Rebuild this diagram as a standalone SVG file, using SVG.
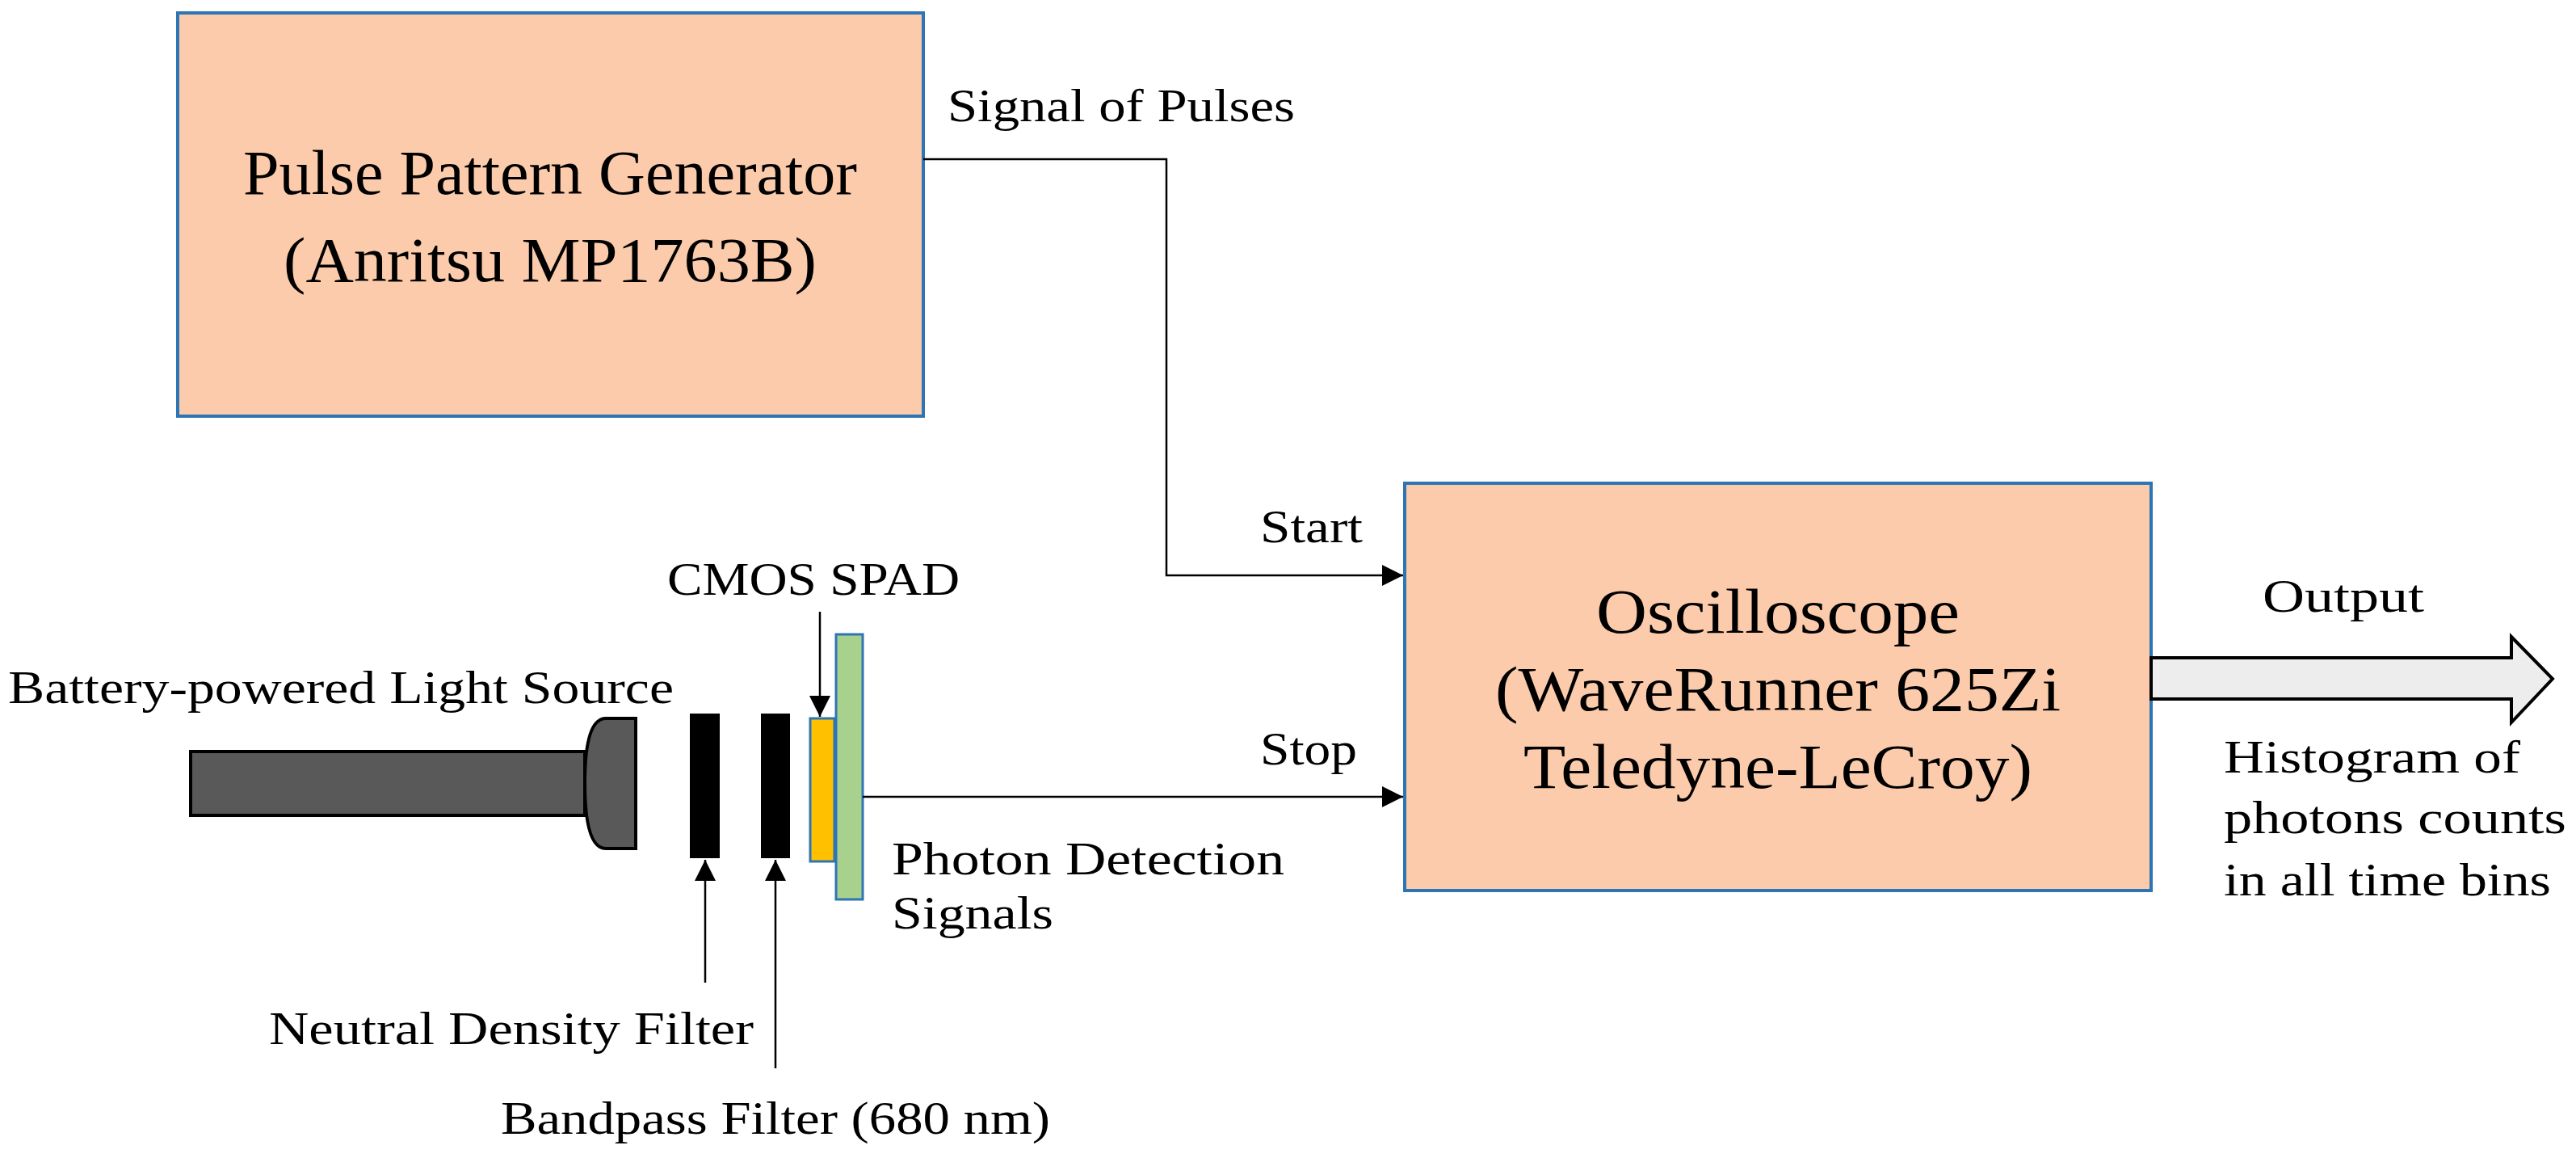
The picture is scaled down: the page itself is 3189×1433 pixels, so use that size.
<svg xmlns="http://www.w3.org/2000/svg" width="3189" height="1433" viewBox="0 0 3189 1433">
<defs>
<style>
text{font-family:"Liberation Serif","DejaVu Serif",serif;fill:#000}
.big{font-size:78px}
.lbl{font-size:58px}
.box{fill:#FBCBAB;stroke:#2E75B6;stroke-width:4}
.ln{fill:none;stroke:#000;stroke-width:2.5}
</style>
<marker id="ah2" viewBox="0 0 10 10" refX="10" refY="5" markerWidth="26" markerHeight="26" markerUnits="userSpaceOnUse" orient="auto"><path d="M0,0L10,5L0,10z" fill="#000"/></marker>
</defs>
<rect width="3189" height="1433" fill="#fff"/>
<g id="ppg">
<rect class="box" x="220" y="16" width="923" height="499"/>
<text class="big" x="681" y="240" text-anchor="middle" textLength="760" lengthAdjust="spacingAndGlyphs">Pulse Pattern Generator</text>
<text class="big" x="681" y="348" text-anchor="middle" textLength="660" lengthAdjust="spacingAndGlyphs">(Anritsu MP1763B)</text>
</g>
<g id="osc">
<rect class="box" x="1739" y="598" width="924" height="504"/>
<text class="big" x="2201" y="783" text-anchor="middle" textLength="450" lengthAdjust="spacingAndGlyphs">Oscilloscope</text>
<text class="big" x="2201" y="879" text-anchor="middle" textLength="700" lengthAdjust="spacingAndGlyphs">(WaveRunner 625Zi</text>
<text class="big" x="2201" y="975" text-anchor="middle" textLength="630" lengthAdjust="spacingAndGlyphs">Teledyne-LeCroy)</text>
</g>
<g id="light">
<rect x="236" y="930" width="488" height="79" fill="#595959" stroke="#000" stroke-width="4"/>
<path d="M787,889 L750,889 Q724,889 724,969 Q724,1050 750,1050 L787,1050 Z" fill="#595959" stroke="#000" stroke-width="4"/>
<text class="lbl" x="10" y="870" textLength="824" lengthAdjust="spacingAndGlyphs">Battery-powered Light Source</text>
</g>
<g id="filters">
<rect x="854" y="883" width="37" height="179" fill="#000"/>
<rect x="942" y="883" width="36" height="179" fill="#000"/>
<text class="lbl" x="333" y="1292" textLength="600" lengthAdjust="spacingAndGlyphs">Neutral Density Filter</text>
<text class="lbl" x="620" y="1403" textLength="680" lengthAdjust="spacingAndGlyphs">Bandpass Filter (680 nm)</text>
</g>
<g id="spad">
<rect x="1003" y="889" width="30" height="177" fill="#FFC000" stroke="#2E75B6" stroke-width="3"/>
<rect x="1035" y="785" width="33" height="328" fill="#A9D18E" stroke="#2E75B6" stroke-width="3"/>
<text class="lbl" x="826" y="736" textLength="362" lengthAdjust="spacingAndGlyphs">CMOS SPAD</text>
<text class="lbl" x="1104" y="1082" textLength="486" lengthAdjust="spacingAndGlyphs">Photon Detection</text>
<text class="lbl" x="1104" y="1149" textLength="200" lengthAdjust="spacingAndGlyphs">Signals</text>
</g>
<g id="labels">
<text class="lbl" x="1173" y="150" textLength="430" lengthAdjust="spacingAndGlyphs">Signal of Pulses</text>
<text class="lbl" x="1560" y="671" textLength="127" lengthAdjust="spacingAndGlyphs">Start</text>
<text class="lbl" x="1560" y="946" textLength="120" lengthAdjust="spacingAndGlyphs">Stop</text>
<text class="lbl" x="2801" y="757" textLength="200" lengthAdjust="spacingAndGlyphs">Output</text>
<text class="lbl" x="2753" y="956" textLength="367" lengthAdjust="spacingAndGlyphs">Histogram of</text>
<text class="lbl" x="2753" y="1031" textLength="424" lengthAdjust="spacingAndGlyphs">photons counts</text>
<text class="lbl" x="2753" y="1108" textLength="405" lengthAdjust="spacingAndGlyphs">in all time bins</text>
</g>
<g id="connectors">
<path class="ln" d="M1143,197 H1444 V712 H1737" marker-end="url(#ah2)"/>
<path class="ln" d="M1068,986 H1737" marker-end="url(#ah2)"/>
<path class="ln" d="M1015,757 V887" marker-end="url(#ah2)"/>
<path class="ln" d="M873,1216 V1064" marker-end="url(#ah2)"/>
<path class="ln" d="M960,1322 V1064" marker-end="url(#ah2)"/>
<path d="M2663,814 H3109 V788 L3160,840 L3109,894 V865 H2663 Z" fill="#EDEDED" stroke="#000" stroke-width="4"/>
</g>
</svg>
